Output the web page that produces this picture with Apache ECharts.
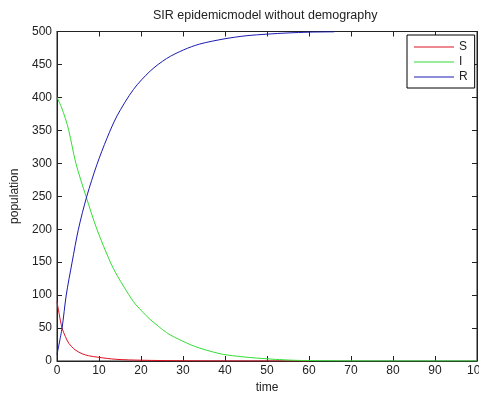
<!DOCTYPE html>
<html>
<head>
<meta charset="utf-8">
<script src="https://cdn.jsdelivr.net/npm/echarts@6/dist/echarts.min.js"></script>
<style>html,body{margin:0;padding:0;background:#fff}#c{width:479px;height:394px}</style>
</head>
<body>
<div id="c"></div>
<script>
var titleText = 'SIR epidemicmodel without demography';
var xName = 'time';
var yName = 'population';
var seriesNames = ['S', 'I', 'R'];

var tS = [0, 0.5, 1.2, 2, 2.8, 4.3, 6, 7.5, 10, 14, 20, 30, 40, 50, 60];
var vS = [90, 72, 50, 37, 27, 17, 11, 8, 5.5, 2.6, 1.2, 0.4, 0.15, 0.05, 0];

var tI = [0, 1, 2, 2.8, 4.5, 6.9, 9.5, 12.7, 14.3, 16, 18.2, 20, 22.2, 26.1, 28, 31.7, 34, 37, 39.6, 44, 47.5, 52, 56, 60, 70, 80, 90, 100];
var vI = [400, 386, 368, 350, 300, 250, 200, 150, 130, 112, 90, 77, 63, 43, 36, 25, 19.5, 14, 10, 6.5, 4.5, 2.5, 1.2, 0.6, 0.1, 0, 0, 0];

var tR = [0, 1.2, 2.2, 3.6, 5.1, 7.1, 9.5, 11.9, 14.3, 18.2, 22.2, 26.1, 30.1, 34, 40, 45, 50, 55, 60, 66];
var vR = [10, 50, 100, 150, 200, 250, 298, 338, 372, 412, 440, 459, 472, 481, 489, 493.5, 496, 497.8, 499, 499.5];

function pairs(t, v) { return t.map(function (x, i) { return [x, v[i]]; }); }

var font = 'Liberation Sans, Arial, sans-serif';
var txt = '#222';
var axisCol = '#222';
var colors = ['#dd1122', '#33dd33', '#1a1ab0'];
var lineIcon = 'path://M0,0 L40,0 L40,1 L0,1 Z';

function ticks() { return {show: true, inside: true, length: 5, lineStyle: {color: axisCol, width: 1}}; }

var chart = echarts.init(document.getElementById('c'), null, {renderer: 'canvas'});
chart.setOption({
  animation: false,
  backgroundColor: '#fff',
  textStyle: {fontFamily: font},
  title: {
    text: titleText, left: 153, top: 9, padding: 0,
    textStyle: {fontSize: 12.5, fontWeight: 'normal', color: txt, fontFamily: font}
  },
  legend: {
    orient: 'vertical', left: 407, top: 35,
    padding: [6, 7, 5, 7],
    itemWidth: 40, itemHeight: 14, itemGap: 3,
    borderColor: '#000', borderWidth: 1, backgroundColor: '#fff',
    data: seriesNames.map(function (n) { return {name: n, icon: lineIcon}; }),
    textStyle: {fontSize: 12, color: txt, fontFamily: font}
  },
  grid: {left: 57, right: 2, top: 31.5, bottom: 33, containLabel: false, outerBoundsMode: 'none',
         show: true, borderColor: axisCol, borderWidth: 1, backgroundColor: 'transparent'},
  xAxis: [{
    type: 'value', min: 0, max: 100, interval: 10, position: 'bottom',
    name: xName, nameLocation: 'middle', nameGap: 21,
    nameTextStyle: {fontSize: 12, color: txt, fontFamily: font},
    axisLine: {show: true, onZero: false, lineStyle: {color: axisCol, width: 1}},
    axisTick: ticks(),
    axisLabel: {fontSize: 12, color: txt, margin: 4, fontFamily: font},
    splitLine: {show: false}
  }, {
    type: 'value', min: 0, max: 100, interval: 10, position: 'top',
    axisLine: {show: true, onZero: false, lineStyle: {color: axisCol, width: 1}},
    axisTick: ticks(),
    axisLabel: {show: false},
    splitLine: {show: false}
  }],
  yAxis: [{
    type: 'value', min: 0, max: 500, interval: 50, position: 'left',
    name: yName, nameLocation: 'middle', nameGap: 12, nameRotate: 90,
    nameTextStyle: {fontSize: 12, color: txt, fontFamily: font},
    axisLine: {show: true, onZero: false, lineStyle: {color: axisCol, width: 1}},
    axisTick: ticks(),
    axisLabel: {fontSize: 12, color: txt, margin: 5, fontFamily: font},
    splitLine: {show: false}
  }, {
    type: 'value', min: 0, max: 500, interval: 50, position: 'right',
    axisLine: {show: true, onZero: false, lineStyle: {color: axisCol, width: 1}},
    axisTick: ticks(),
    axisLabel: {show: false},
    splitLine: {show: false}
  }],
  series: [
    {name: seriesNames[0], type: 'line', data: pairs(tS, vS), symbol: 'none', smooth: 0.3, color: colors[0], lineStyle: {width: 1, color: colors[0]}},
    {name: seriesNames[1], type: 'line', data: pairs(tI, vI), symbol: 'none', smooth: 0.3, color: colors[1], lineStyle: {width: 1, color: colors[1]}},
    {name: seriesNames[2], type: 'line', data: pairs(tR, vR), symbol: 'none', smooth: 0.3, color: colors[2], lineStyle: {width: 1, color: colors[2]}},
    {name: '_frame', type: 'line', xAxisIndex: 1, yAxisIndex: 1, data: pairs(tR, vR), symbol: 'none', silent: true,
     lineStyle: {opacity: 0}, z: 0}
  ]
});
</script>
</body>
</html>
